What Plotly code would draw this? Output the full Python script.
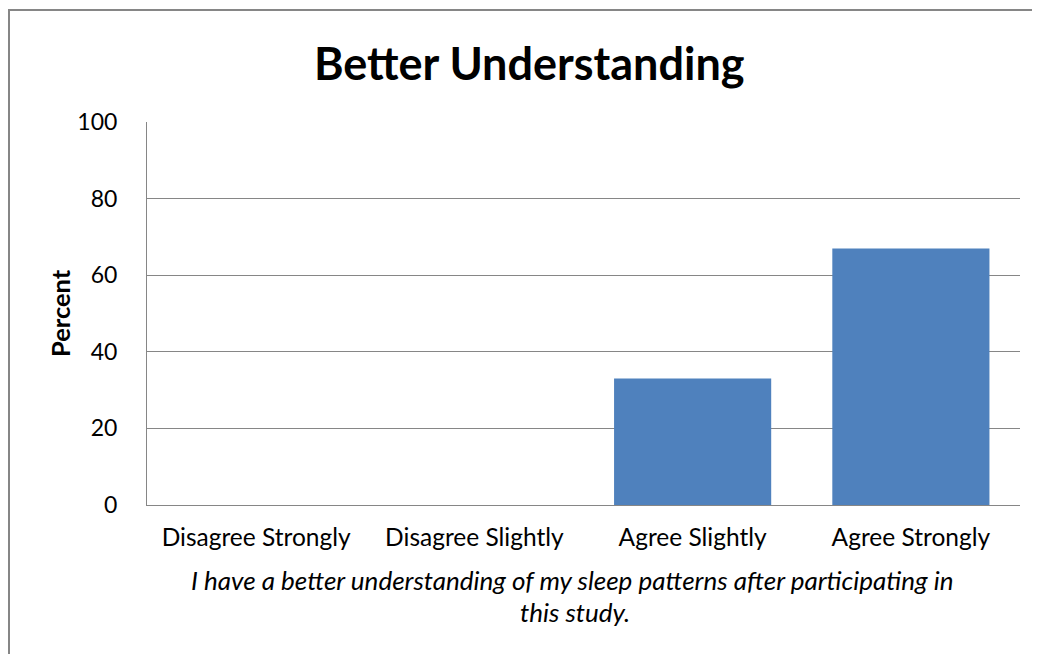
import plotly.graph_objects as go

categories = ["Disagree Strongly", "Disagree Slightly", "Agree Slightly", "Agree Strongly"]
percent = [0, 0, 33, 67]
y_ticks = [0, 20, 40, 60, 80, 100]

FONT = "Lato"
GRID = "#868686"

fig = go.Figure(go.Bar(x=categories, y=percent, marker=dict(color="#4F81BD", line=dict(width=0)), width=0.72))

# page has an 8px body margin; figure coords = screen coords - 8
OFF = 8
W, H = 1040 - OFF, 654 - OFF
L, R, T, B = 147 - OFF, 20, 122 - OFF, 654 - 505
pw, ph = W - L - R, H - T - B

def px_x(p):
    return (p - OFF - L) / pw

def px_y(p):
    return (H - B - (p - OFF)) / ph

fig.update_layout(
    width=W, height=H,
    margin=dict(l=L, r=R, t=T, b=B),
    paper_bgcolor="white", plot_bgcolor="white",
    showlegend=False,
    font=dict(family=FONT, color="black"),
    xaxis=dict(showgrid=False, showline=True, linecolor=GRID, linewidth=1,
               ticks="", tickfont=dict(size=24.5), ticklabelstandoff=11),
    yaxis=dict(range=[0, 100], tickvals=y_ticks, showgrid=True, gridcolor=GRID, gridwidth=1,
               showline=True, linecolor=GRID, linewidth=1, ticks="", ticklabelstandoff=24,
               tickfont=dict(size=23), zeroline=False),
    annotations=[
        dict(text="<b>Better Understanding</b>", xref="paper", yref="paper",
             x=px_x(529), y=px_y(63), xanchor="center", yanchor="middle",
             showarrow=False, font=dict(size=45)),
        dict(text="<b>Percent</b>", xref="paper", yref="paper", textangle=-90,
             x=px_x(60), y=px_y(313), xanchor="center", yanchor="middle",
             showarrow=False, font=dict(size=25.5)),
        dict(text="<i>I have a better understanding of my sleep patterns after participating in</i>",
             xref="paper", yref="paper", x=px_x(572), y=px_y(580), xanchor="center", yanchor="middle",
             showarrow=False, font=dict(size=26)),
        dict(text="<i>this study.</i>",
             xref="paper", yref="paper", x=px_x(575), y=px_y(612), xanchor="center", yanchor="middle",
             showarrow=False, font=dict(size=26)),
    ],
    shapes=[dict(type="rect", xref="paper", yref="paper",
                 x0=px_x(9), x1=px_x(1100), y0=px_y(720), y1=px_y(10),
                 line=dict(color=GRID, width=2), fillcolor="rgba(0,0,0,0)", layer="below")],
)

fig.write_html("out.html")
